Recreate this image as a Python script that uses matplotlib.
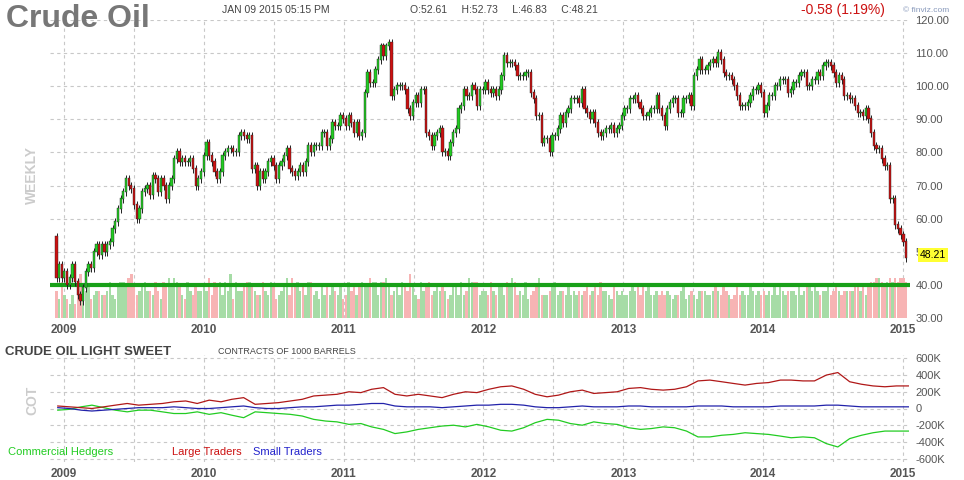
import datetime as dt
import numpy as np
import matplotlib
matplotlib.use("Agg")
import matplotlib.pyplot as plt

plt.rcParams["font.family"] = ["Liberation Sans", "DejaVu Sans"]

# weekly closes, Dec 2008 .. Jan 2015
CLOSES = [
    42, 46, 42, 44,
    # 2009
    40, 42, 46, 41, 37, 35, 39, 44, 46, 45, 50, 52, 49, 52, 50, 52,
    53, 57, 59, 63, 66, 68, 72, 70, 69, 64, 60, 63, 68, 69, 70, 67, 73, 72,
    68, 72, 70, 66, 70, 72, 78, 80, 77, 78, 77, 77, 78, 75, 70, 72, 74, 79,
    # 2010
    83, 79, 77, 74, 72, 74, 79, 80, 81, 81, 80, 80, 85, 86, 85, 84, 85,
    75, 76, 70, 74, 72, 74, 77, 78, 76, 72, 76, 77, 79, 81, 75, 74, 73,
    74, 76, 74, 77, 82, 80, 82, 82, 82, 86, 86, 82, 84, 89, 88, 88, 91, 90,
    # 2011
    88, 91, 89, 86, 89, 85, 86, 98, 104, 101, 101, 105, 108, 112, 109, 112, 113,
    97, 99, 100, 100, 100, 99, 93, 91, 95, 97, 95, 99, 99, 86, 85, 82, 85,
    86, 87, 80, 80, 79, 83, 86, 87, 93, 94, 99, 97, 97, 100, 99, 94, 99, 99,
    # 2012
    101, 99, 98, 99, 97, 99, 103, 109, 107, 107, 107, 106, 103, 103, 103, 104, 104,
    98, 96, 91, 91, 83, 84, 84, 80, 85, 85, 87, 91, 89, 92, 93, 96, 96, 96,
    95, 99, 93, 92, 90, 92, 89, 86, 85, 86, 87, 87, 88, 86, 87, 88, 91,
    # 2013
    93, 93, 96, 96, 97, 95, 93, 91, 91, 92, 93, 93, 97, 93, 91, 88, 93,
    95, 96, 96, 92, 92, 96, 96, 97, 94, 103, 105, 108, 105, 105, 106, 107, 108, 107,
    110, 108, 104, 103, 103, 102, 100, 97, 94, 94, 94, 95, 97, 99, 99, 100, 98,
    # 2014
    92, 94, 97, 97, 100, 100, 102, 102, 102, 98, 99, 101, 101, 103, 104, 104, 100,
    100, 102, 102, 104, 103, 106, 107, 107, 106, 104, 101, 103, 102, 97, 97, 96, 96, 94,
    92, 92, 91, 93, 90, 86, 82, 81, 81, 78, 76, 76, 66, 66, 58, 57, 55,
    # 2015
    53, 48.21,
]
FIRST_OPEN = 54.5

# relative weekly volume, one digit per week
VOL = ("4263"
       "2131685452344334632566578534564436426575765326435445"
       "4736563648264456654336436523457375645366342535354352"
       "3645356557663667534536548532645634545423553634766634"
       "4364355365763436234573334563443534343453453644325434"
       "3345453545334343432334523432444334543543235343354343"
       "4343535434443534554543445345434444554535667765676767"
       "76")

# COT net positions (thousands of contracts), monthly Dec 2008 .. Jan 2015
LARGE = [30,
         20, 10, 0, 20, 40, 60, 40, 50, 60, 80, 90, 60,
         100, 80, 110, 130, 50, 60, 70, 90, 110, 150, 160, 170,
         200, 190, 230, 250, 170, 150, 170, 150, 130, 170, 200, 190,
         230, 260, 270, 230, 170, 140, 160, 200, 220, 180, 190, 200,
         240, 250, 230, 220, 230, 260, 330, 340, 320, 300, 280, 300,
         310, 340, 340, 330, 330, 400, 430, 320, 290, 270, 260, 270,
         270]
COMM = [-20,
        -10, 20, 40, 10, -20, -40, -20, -20, -40, -60, -60, -40,
        -70, -50, -80, -110, -40, -50, -60, -70, -90, -130, -150, -160,
        -190, -180, -220, -250, -300, -280, -250, -230, -210, -200, -220, -190,
        -220, -260, -270, -230, -170, -130, -140, -180, -200, -160, -180, -190,
        -230, -250, -240, -220, -230, -270, -340, -340, -320, -310, -290, -300,
        -310, -330, -350, -340, -350, -420, -460, -360, -320, -290, -270, -270,
        -270]
SMALL = [10,
         0, -20, -30, -20, -10, 0, 10, 10, 10, 20, 10, 0,
         0, 10, 20, 30, 10, 0, 0, 10, 20, 20, 30, 40,
         40, 50, 60, 60, 30, 20, 20, 20, 10, 20, 30, 40,
         40, 50, 50, 40, 20, 10, 10, 20, 30, 20, 20, 20,
         30, 30, 20, 20, 20, 20, 30, 30, 30, 20, 20, 20,
         20, 30, 30, 30, 30, 40, 40, 30, 20, 20, 20, 20,
         20]


def year_frac(d):
    start = dt.date(d.year, 1, 1)
    return d.year + (d - start).days / 365.25


n = len(CLOSES)
end = dt.date(2015, 1, 9)
dates = [end - dt.timedelta(weeks=n - 1 - i) for i in range(n)]
x = np.array([year_frac(d) for d in dates])
c = np.array(CLOSES, float)
o = np.concatenate([[FIRST_OPEN], c[:-1]])
hi = np.maximum(o, c) + 1.2
lo = np.minimum(o, c) - 1.2
vol = np.array([3 + 1.3 * int(v) for v in VOL[:n]])
up = c >= o

mx = np.array([year_frac(dt.date(2008 + (11 + i) // 12, (11 + i) % 12 + 1, 15))
               for i in range(len(LARGE))])

W, H = 964, 480
fig = plt.figure(figsize=(W / 100, H / 100), dpi=100)
XL = (2008.9, 2015.05)
GRID = dict(color="#c8c8c8", ls=(0, (3, 3)), lw=0.8)
gx = [y + h for y in range(2009, 2015) for h in (0, 0.5)] + [2015]

ax = fig.add_axes([50 / W, 1 - 318 / H, 860 / W, 298 / H])
ax.set_xlim(*XL)
ax.set_ylim(30, 120)
for g in gx:
    ax.axvline(g, zorder=0, **GRID)
for yv in range(40, 121, 10):
    ax.axhline(yv, zorder=0, **GRID)
ax.bar(x, vol, bottom=30, width=0.017, color=np.where(up, "#a6dca6", "#f7b4b4"),
       zorder=1)
ax.axhline(40, color="#18a018", lw=3, zorder=2)
ax.vlines(x, lo, hi, color="#222222", lw=0.7, zorder=3)
ax.bar(x, np.abs(c - o) + 0.3, bottom=np.minimum(o, c), width=0.016,
       color=np.where(up, "#22cc22", "#cc1111"), edgecolor="#222222",
       linewidth=0.3, zorder=4)
for s in ax.spines.values():
    s.set_visible(False)
ax.yaxis.tick_right()
ax.set_yticks(range(30, 121, 10))
ax.set_yticklabels([f"{v:.2f}" for v in range(30, 121, 10)], fontsize=8,
                   color="#555555")
ax.tick_params(length=0, pad=4)
ax.set_xticks(range(2009, 2016))
ax.set_xticklabels([str(y) for y in range(2009, 2016)], fontsize=8.5,
                   color="#555555", fontweight="bold")
ax.text(2015.12, c[-1] + 0.8, f"{c[-1]:.2f}", fontsize=7.5, va="center",
        clip_on=False,
        bbox=dict(boxstyle="square,pad=0.15", fc="#ffff33", ec="none"))

bx = fig.add_axes([50 / W, 1 - 462 / H, 860 / W, 107 / H])
bx.set_xlim(*XL)
bx.set_ylim(-640, 640)
for g in gx:
    bx.axvline(g, zorder=0, **GRID)
for yv in range(-600, 601, 200):
    bx.axhline(yv, zorder=0, **GRID)
bx.plot(mx, COMM, color="#22cc22", lw=0.9)
bx.plot(mx, LARGE, color="#b01818", lw=0.9)
bx.plot(mx, SMALL, color="#2222aa", lw=0.9)
for s in bx.spines.values():
    s.set_visible(False)
bx.yaxis.tick_right()
bx.set_yticks(range(-600, 601, 200))
bx.set_yticklabels([f"{v}K" if v else "0" for v in range(-600, 601, 200)],
                   fontsize=8, color="#555555")
bx.tick_params(length=0, pad=4)
bx.set_xticks(range(2009, 2016))
bx.set_xticklabels([str(y) for y in range(2009, 2016)], fontsize=8.5,
                   color="#555555", fontweight="bold")


def ft(px, py, s, **kw):
    fig.text(px / W, 1 - py / H, s, **kw)


ft(6, 19, "Crude Oil", fontsize=23, color="#777777", fontweight="bold",
   va="center")
ft(222, 10, "JAN 09 2015 05:15 PM", fontsize=7.5, color="#444444", va="center")
ft(410, 10, "O:52.61     H:52.73     L:46.83     C:48.21", fontsize=7.5,
   color="#444444", va="center")
ft(801, 10, "-0.58 (1.19%)", fontsize=10, color="#cc1111", va="center")
ft(903, 10, "\u00a9 finviz.com", fontsize=6, color="#8899bb", va="center")
ft(32, 175, "WEEKLY", fontsize=10, color="#cccccc", fontweight="bold",
   rotation=90, ha="center", va="center")
ft(5, 352, "CRUDE OIL LIGHT SWEET", fontsize=9.5, color="#444444",
   fontweight="bold", va="center")
ft(218, 352, "CONTRACTS OF 1000 BARRELS", fontsize=6.5, color="#444444",
   va="center")
ft(32, 400, "COT", fontsize=10, color="#cccccc", fontweight="bold",
   rotation=90, ha="center", va="center")
ft(8, 452, "Commercial Hedgers", fontsize=8, color="#22cc22", va="center")
ft(172, 452, "Large Traders", fontsize=8, color="#cc1111", va="center")
ft(253, 452, "Small Traders", fontsize=8, color="#2222cc", va="center")

fig.savefig("out.png", dpi=100)
